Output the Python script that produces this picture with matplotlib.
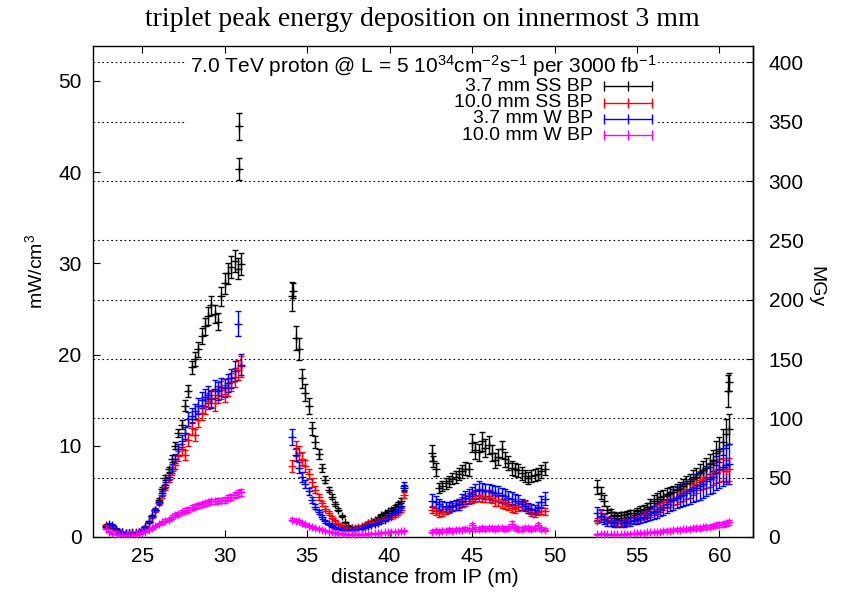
import numpy as np
import matplotlib.pyplot as plt
from matplotlib.patches import Rectangle

plt.rcParams['font.family'] = ['Liberation Sans', 'DejaVu Sans']
plt.rcParams['mathtext.fontset'] = 'custom'
plt.rcParams['mathtext.rm'] = 'Liberation Sans'
plt.rcParams['mathtext.it'] = 'Liberation Sans:italic'

# ---- data (mW/cm3 vs distance from IP in m) ----
# x positions of the four magnet segments
x_q1 = [22.8, 23.0, 23.2, 23.4, 23.6, 23.8, 24.0, 24.2, 24.4, 24.6, 24.8, 25.0, 25.2, 25.4,
        25.6, 25.8, 26.0, 26.2, 26.4, 26.6, 26.8, 27.0, 27.2, 27.4, 27.6, 27.8, 28.0, 28.2,
        28.4, 28.6, 28.8, 29.0, 29.2, 29.4, 29.6, 29.8, 30.0, 30.2, 30.4, 30.6, 30.8, 31.0]
x_q2a = [34.1, 34.3, 34.5, 34.7, 34.9, 35.1, 35.3, 35.5, 35.7, 35.9, 36.1, 36.3, 36.5, 36.7,
         36.9, 37.1, 37.3, 37.5, 37.7, 37.9, 38.1, 38.3, 38.5, 38.7, 38.9, 39.1, 39.3, 39.5,
         39.7, 39.9, 40.1, 40.3, 40.5, 40.7, 40.9]
x_q2b = [42.6, 42.8, 43.0, 43.2, 43.4, 43.6, 43.8, 44.0, 44.2, 44.4, 44.6, 44.8, 45.0, 45.2,
         45.4, 45.6, 45.8, 46.0, 46.2, 46.4, 46.6, 46.8, 47.0, 47.2, 47.4, 47.6, 47.8, 48.0,
         48.2, 48.4, 48.6, 48.8, 49.0, 49.2, 49.4]
x_q3 = [52.6, 52.8, 53.0, 53.2, 53.4, 53.6, 53.8, 54.0, 54.2, 54.4, 54.6, 54.8, 55.0, 55.2,
        55.4, 55.6, 55.8, 56.0, 56.2, 56.4, 56.6, 56.8, 57.0, 57.2, 57.4, 57.6, 57.8, 58.0,
        58.2, 58.4, 58.6, 58.8, 59.0, 59.2, 59.4, 59.6, 59.8, 60.0, 60.2, 60.4, 60.6]

# 3.7 mm SS BP
ss37_q1 = [1.2, 1.1, 1.0, 0.8, 0.6, 0.5, 0.45, 0.4, 0.4, 0.45, 0.5, 0.7, 1.1, 1.7,
           2.3, 3.0, 4.1, 5.3, 6.5, 7.4, 8.6, 10.0, 11.4, 12.3, 14.4, 16.0, 18.6, 19.5,
           20.6, 22.0, 23.1, 24.2, 25.4, 24.4, 23.6, 26.4, 27.8, 28.9, 29.6, 30.2, 29.4, 29.9]
ss37_q2a = [26.4, 21.8, 20.6, 17.4, 15.8, 14.4, 11.9, 10.4, 9.1, 7.6, 6.3, 5.2, 4.4, 3.6,
            3.0, 2.3, 1.6, 1.2, 1.0, 0.9, 1.0, 1.1, 1.3, 1.5, 1.7, 1.9, 2.1, 2.4,
            2.6, 2.8, 3.0, 3.3, 3.6, 4.0, 5.4]
ss37_q2b = [9.2, 7.4, 5.4, 5.6, 5.9, 6.1, 6.4, 6.6, 6.9, 7.2, 7.5, 7.4, 10.3, 9.5,
            9.3, 10.5, 9.8, 10.1, 9.2, 8.4, 8.8, 9.6, 8.5, 8.1, 7.6, 7.4, 7.3, 7.0,
            6.7, 6.5, 6.7, 6.8, 6.9, 7.2, 7.5]
ss37_q3 = [5.5, 4.8, 4.0, 3.0, 2.7, 2.4, 2.3, 2.4, 2.4, 2.5, 2.6, 2.6, 2.8, 3.0,
           3.1, 3.3, 3.7, 4.0, 4.2, 4.4, 4.5, 4.7, 4.8, 4.9, 5.1, 5.3, 5.6, 5.9,
           6.1, 6.4, 6.6, 7.0, 7.3, 7.6, 8.0, 8.4, 9.2, 9.6, 10.4, 11.3, 11.8]
# isolated 3.7 mm SS BP points
ss37_extra_x = [30.85, 30.9, 34.15, 42.65, 60.5, 60.6]
ss37_extra_y = [40.3, 45.0, 27.0, 8.3, 16.0, 17.0]
ss37_extra_err = [1.2, 1.5, 0.8, 0.6, 1.8, 1.0]

# 10.0 mm SS BP
ss10_q1 = [1.3, 1.2, 1.1, 0.8, 0.6, 0.5, 0.45, 0.45, 0.5, 0.5, 0.6, 0.8, 1.1, 1.6,
           2.2, 2.9, 3.7, 4.6, 5.5, 6.4, 7.2, 7.9, 8.9, 9.6, 9.0, 10.6, 11.9, 11.2,
           12.8, 13.6, 14.3, 14.9, 15.2, 14.7, 15.6, 16.1, 15.7, 16.4, 17.0, 17.5, 18.3, 18.7]
ss10_q2a = [7.8, 9.7, 9.2, 8.6, 7.8, 6.9, 6.0, 5.2, 4.4, 3.7, 3.1, 2.6, 2.1, 1.7,
            1.4, 1.2, 1.1, 1.0, 1.0, 1.0, 1.1, 1.2, 1.3, 1.5, 1.6, 1.7, 1.8, 1.9,
            2.0, 2.1, 2.2, 2.4, 2.6, 3.0, 4.6]
ss10_q2b = [3.0, 2.8, 2.6, 2.7, 2.9, 3.1, 3.3, 3.5, 3.7, 3.8, 4.0, 4.2, 4.3, 4.5,
            4.6, 4.5, 4.4, 4.5, 4.3, 4.0, 3.9, 3.7, 3.6, 3.4, 3.2, 3.1, 3.3, 3.4,
            3.6, 3.0, 2.7, 2.6, 2.8, 2.9, 2.8]
ss10_q3 = [1.8, 2.6, 2.2, 1.9, 1.8, 1.6, 1.5, 1.5, 1.6, 1.7, 1.8, 1.9, 2.1, 2.2,
           2.4, 2.5, 2.6, 2.9, 3.1, 3.3, 3.5, 3.8, 4.0, 4.2, 4.4, 4.6, 4.8, 5.0,
           5.1, 5.5, 5.8, 6.2, 6.3, 6.5, 6.6, 6.9, 7.1, 7.3, 7.4, 7.2, 7.4]

# 3.7 mm W BP
w37_q1 = [1.1, 1.4, 1.3, 0.9, 0.6, 0.5, 0.4, 0.4, 0.4, 0.45, 0.55, 0.75, 1.1, 1.6,
          2.3, 3.0, 3.8, 4.8, 5.7, 6.6, 7.5, 8.6, 9.6, 10.5, 11.4, 12.9, 13.3, 13.8,
          14.4, 15.0, 15.3, 15.6, 15.1, 16.2, 16.0, 16.4, 16.3, 16.9, 17.4, 18.2, 23.4, 18.9]
w37_q2a = [11.0, 9.0, 7.6, 6.6, 5.8, 5.0, 4.1, 3.3, 2.7, 2.2, 1.7, 1.4, 1.2, 1.0,
           0.9, 0.8, 0.8, 0.8, 0.8, 0.9, 0.9, 1.0, 1.1, 1.2, 1.3, 1.4, 1.5, 1.7,
           1.9, 2.2, 2.4, 2.7, 3.0, 3.4, 5.6]
w37_q2b = [4.0, 3.8, 3.6, 3.4, 3.3, 3.3, 3.4, 3.5, 3.6, 4.0, 4.3, 4.5, 4.7, 5.0,
           5.2, 5.1, 5.0, 5.0, 4.9, 4.8, 4.8, 4.6, 4.5, 4.3, 4.2, 4.0, 3.9, 3.6,
           3.4, 3.2, 3.1, 3.0, 3.3, 3.8, 4.2]
w37_q3 = [2.6, 2.3, 2.0, 1.7, 1.6, 1.5, 1.5, 1.5, 1.5, 1.6, 1.7, 1.9, 2.0, 2.1,
          2.2, 2.4, 2.6, 2.7, 2.9, 3.1, 3.3, 3.6, 3.9, 4.1, 4.3, 4.5, 4.6, 4.8,
          5.0, 5.2, 5.4, 5.6, 5.8, 6.1, 6.4, 6.6, 7.0, 7.4, 7.7, 7.9, 8.0]

# 10.0 mm W BP
w10_q1 = [0.9, 0.6, 0.4, 0.3, 0.2, 0.2, 0.2, 0.2, 0.25, 0.3, 0.4, 0.5, 0.6, 0.8,
          1.0, 1.2, 1.4, 1.6, 1.8, 1.9, 2.2, 2.4, 2.5, 2.7, 2.9, 3.0, 3.2, 3.3,
          3.5, 3.6, 3.7, 3.8, 3.9, 3.9, 4.0, 4.0, 4.1, 4.3, 4.4, 4.6, 4.8, 4.9]
w10_q2a = [1.9, 1.8, 1.7, 1.5, 1.4, 1.2, 1.1, 1.0, 0.9, 0.8, 0.7, 0.6, 0.5, 0.45,
           0.4, 0.35, 0.3, 0.3, 0.3, 0.3, 0.3, 0.3, 0.3, 0.35, 0.35, 0.4, 0.4, 0.45,
           0.5, 0.5, 0.55, 0.6, 0.6, 0.65, 0.7]
w10_q2b = [0.6, 0.7, 0.6, 0.7, 0.7, 0.8, 0.7, 0.8, 0.8, 0.8, 0.9, 0.8, 1.3, 0.9,
           0.9, 1.0, 0.9, 1.0, 1.0, 0.9, 1.0, 1.0, 0.9, 1.0, 1.4, 1.0, 0.9, 0.9,
           1.0, 1.0, 0.9, 1.0, 1.3, 0.9, 0.8]
w10_q3 = [0.3, 0.35, 0.35, 0.3, 0.3, 0.3, 0.3, 0.3, 0.3, 0.35, 0.35, 0.4, 0.4, 0.45,
          0.45, 0.5, 0.5, 0.55, 0.6, 0.6, 0.65, 0.7, 0.7, 0.75, 0.8, 0.8, 0.85, 0.85,
          0.9, 0.95, 1.0, 1.0, 1.05, 1.1, 1.15, 1.2, 1.3, 1.35, 1.4, 1.5, 1.6]

# relative statistical error per segment (Q1, Q2a, Q2b, Q3)
ss37_rel = [0.04, 0.06, 0.10, 0.14]
ss10_rel = [0.06, 0.08, 0.14, 0.17]
w37_rel = [0.06, 0.08, 0.17, 0.27]
w10_rel = [0.08, 0.10, 0.22, 0.18]

labels = ['3.7 mm SS BP', '10.0 mm SS BP', '3.7 mm W BP', '10.0 mm W BP']
colors = ['#000000', '#ff0000', '#0000ff', '#ff00ff']

# right axis: MGy over 3000 fb^-1
mw_to_mgy = 7.69
y2_ticks = [0, 50, 100, 150, 200, 250, 300, 350, 400]

seg_x = [x_q1, x_q2a, x_q2b, x_q3]
series = [[ss37_q1, ss37_q2a, ss37_q2b, ss37_q3],
          [ss10_q1, ss10_q2a, ss10_q2b, ss10_q3],
          [w37_q1, w37_q2a, w37_q2b, w37_q3],
          [w10_q1, w10_q2a, w10_q2b, w10_q3]]
rels = [ss37_rel, ss10_rel, w37_rel, w10_rel]

fig = plt.figure(figsize=(8.6, 5.92), dpi=100)
ax = fig.add_axes([92.7/860, 55/592, 660.6/860, 491.3/592])

eb = dict(fmt='+', ms=6, mew=1.0, elinewidth=1.0, capsize=2.5, capthick=1.0, zorder=3)

for i in range(4):
    for xs, ys, r in zip(seg_x, series[i], rels[i]):
        ys = np.array(ys)
        ax.errorbar(xs, ys, yerr=ys * r, color=colors[i], **eb)
    if i == 0:
        ax.errorbar(ss37_extra_x, ss37_extra_y, yerr=ss37_extra_err, color=colors[0], **eb)

ax.set_xlim(22, 62.05)
ax.set_ylim(0, 53.85)

# dotted grid at the MGy ticks
for v in y2_ticks[1:]:
    ax.axhline(v / mw_to_mgy, color='black', lw=0.8, ls=(0, (1.5, 2.5)), zorder=1)

# key box (white, covers the grid, sits under the data)
ax.add_patch(Rectangle((0.143, 0.790), 0.713, 0.195, transform=ax.transAxes,
                       facecolor='white', edgecolor='none', zorder=1.5))
ax.text(0.500, 0.958,
        r'7.0 TeV proton @ L = 5 10$^{34}$cm$^{-2}$s$^{-1}$ per 3000 fb$^{-1}$',
        transform=ax.transAxes, ha='center', va='center', fontsize=15, zorder=2)
rows = [0.917, 0.884, 0.851, 0.818]
for lab, col, ry in zip(labels, colors, rows):
    ax.text(0.757, ry, lab, transform=ax.transAxes, ha='right', va='center',
            fontsize=14, zorder=2)
    ax.plot([0.774, 0.810, 0.847], [ry, ry, ry], transform=ax.transAxes, color=col,
            lw=1.0, marker='|', ms=7, mew=1.0, zorder=2)

ax.set_xticks([25, 30, 35, 40, 45, 50, 55, 60])
ax.set_yticks([0, 10, 20, 30, 40, 50])
ax.tick_params(direction='in', length=5, width=0.8, labelsize=15, top=True, right=False)
ax.tick_params(axis='y', pad=8)
ax.tick_params(axis='x', pad=7)
for s in ax.spines.values():
    s.set_linewidth(1.0)

sec = ax.secondary_yaxis('right', functions=(lambda y: y * mw_to_mgy, lambda y: y / mw_to_mgy))
sec.set_yticks(y2_ticks)
sec.tick_params(direction='in', length=5, width=0.8, labelsize=15, pad=11)
sec.spines['right'].set_linewidth(1.0)
ax.text(1.094, 0.51, 'MGy', rotation=-90, transform=ax.transAxes,
        ha='center', va='center', fontsize=14)

ax.set_ylabel('mW/cm$^3$', fontsize=14)
ax.yaxis.set_label_coords(-0.071, 0.54)
ax.set_xlabel('distance from IP (m)', fontsize=15)
ax.xaxis.set_label_coords(0.503, -0.064)

fig.text(0.4916, 1 - 19/592, 'triplet peak energy deposition on innermost 3 mm',
         ha='center', va='center', fontsize=20, family='Liberation Serif')

fig.savefig('out.png', dpi=100)
